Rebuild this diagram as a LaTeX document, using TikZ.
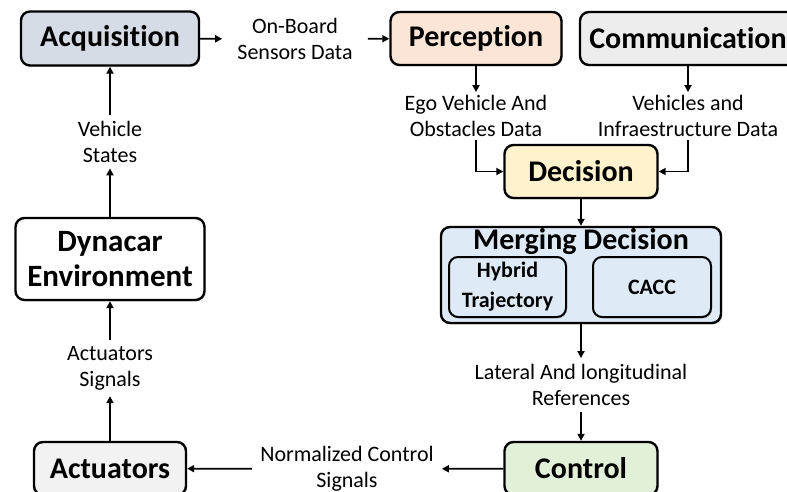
\documentclass[tikz,border=0pt]{standalone}
\usepackage{fontspec}
\setmainfont{Carlito}[Ligatures=NoCommon]
\usetikzlibrary{arrows.meta}
\usetikzlibrary{shadows}
\definecolor{acqfill}{HTML}{D6DCE5}
\definecolor{perfill}{HTML}{FBE5D6}
\definecolor{comfill}{HTML}{EDEDED}
\definecolor{decfill}{HTML}{FFF2CC}
\definecolor{mrgfill}{HTML}{DEEBF7}
\definecolor{ctlfill}{HTML}{E2F0D9}
\definecolor{actfill}{HTML}{F2F2F2}
\begin{document}
\begin{tikzpicture}[x=1pt,y=-1pt]
\tikzstyle{block}=[draw=black,line width=2.4pt,rounded corners=9pt,inner sep=0pt,align=center,
  font=\bfseries\fontsize{30}{34}\selectfont,
  drop shadow={shadow xshift=1.2pt,shadow yshift=-1.5pt,opacity=0.3}]
\tikzstyle{subblock}=[block,line width=2pt,font=\bfseries\fontsize{22}{30}\selectfont,fill=mrgfill]
\tikzstyle{signal}=[align=center,font=\fontsize{22}{26}\selectfont,inner sep=6pt]
\tikzstyle{link}=[-{Triangle[length=7pt,width=7pt]},line width=1.8pt]
\useasboundingbox (0,0) rectangle (787,492);
\node[block,fill=acqfill,minimum width=178pt,minimum height=54pt] (acq) at (110,38.5) {Acquisition};
\node[block,fill=perfill,minimum width=171pt,minimum height=53pt] (per) at (476,38.5) {Perception};
\node[block,fill=comfill,minimum width=216pt,minimum height=53pt] (com) at (688,38.5) {Communication};
\node[block,fill=decfill,minimum width=153pt,minimum height=53pt] (dec) at (581,171.5) {Decision};
\node[block,fill=mrgfill,minimum width=280pt,minimum height=96pt] (mrg) at (581,275) {};
\node[font=\bfseries\fontsize{30}{34}\selectfont,inner sep=0pt] (mrgtitle) at (581,242) {Merging Decision};
\node[subblock,minimum width=117pt,minimum height=60pt] (hyb) at (507.5,287) {Hybrid\\Trajectory};
\node[subblock,minimum width=118pt,minimum height=60pt] (cacc) at (652,287) {CACC};
\node[block,fill=ctlfill,minimum width=153pt,minimum height=53pt] (ctl) at (581,468.5) {Control};
\node[block,fill=actfill,minimum width=152pt,minimum height=53pt] (act) at (110,468.5) {Actuators};
\node[block,fill=white,font=\bfseries\fontsize{31}{35}\selectfont,minimum width=189pt,minimum height=82pt] (dyn) at (110,259) {Dynacar\\Environment};
% signals between the blocks
\node[signal,inner xsep=15pt] (onboard) at (295,39) {On-Board\\Sensors Data};
\node[signal,inner ysep=3pt] (ego) at (476,116) {Ego Vehicle And\\Obstacles Data};
\node[signal,inner ysep=3pt] (infra) at (688,116) {Vehicles and\\Infraestructure Data};
\node[signal] (latref) at (581,385) {Lateral And longitudinal\\References};
\node[signal,inner xsep=8pt] (ncs) at (347,469) {Normalized Control\\Signals};
\node[signal] (actsig) at (110,368) {Actuators\\Signals};
\node[signal] (vstates) at (110,141.5) {Vehicle\\States};
\draw[link] (acq) -- (onboard);
\draw[link] (onboard) -- (per);
\draw[link] (per) -- (ego);
\draw[link] (com) -- (infra);
\draw[link] (ego.south) |- (dec.west);
\draw[link] (infra.south) |- (dec.east);
\draw[link] (dec) -- (mrg);
\draw[link] (mrg) -- (latref);
\draw[link] (latref) -- (ctl);
\draw[link] (ctl) -- (ncs);
\draw[link] (ncs) -- (act);
\draw[link] (act) -- (actsig);
\draw[link] (actsig) -- (dyn);
\draw[link] (dyn) -- (vstates);
\draw[link] (vstates) -- (acq);
\end{tikzpicture}
\end{document}
